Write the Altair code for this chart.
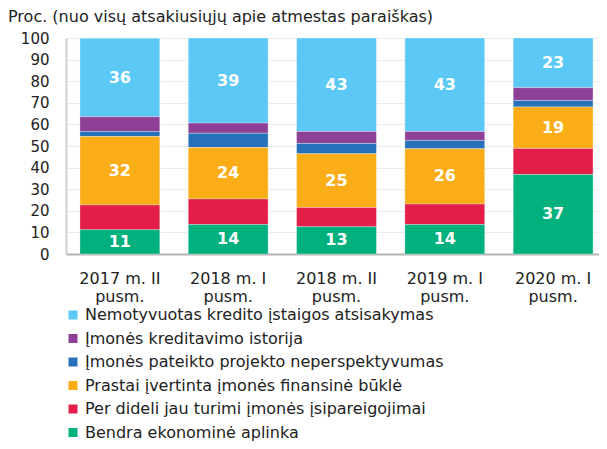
import altair as alt
import pandas as pd

categories = ["2017 m. II pusm.", "2018 m. I pusm.", "2018 m. II pusm.", "2019 m. I pusm.", "2020 m. I pusm."]
series = [
    "Nemotyvuotas kredito įstaigos atsisakymas",
    "Įmonės kreditavimo istorija",
    "Įmonės pateikto projekto neperspektyvumas",
    "Prastai įvertinta įmonės finansinė būklė",
    "Per dideli jau turimi įmonės įsipareigojimai",
    "Bendra ekonominė aplinka",
]
colors = ["#5BC8F5", "#8E3F96", "#2671B9", "#FBAD18", "#E31E48", "#00B07D"]

nemotyvuotas = [36.4, 39.4, 43.3, 43.3, 23.0]
istorija = [6.8, 4.7, 5.5, 4.1, 5.9]
projektas = [2.3, 6.6, 4.8, 3.9, 3.0]
finansine = [31.7, 23.8, 24.9, 25.6, 19.2]
isipareigojimai = [11.5, 11.9, 8.9, 9.5, 12.1]
bendra = [11.2, 13.6, 12.6, 13.6, 36.8]
labelled = [True, False, False, True, False, True]
y_ticks = [0, 10, 20, 30, 40, 50, 60, 70, 80, 90, 100]

title_text = "Proc. (nuo visų atsakiusiųjų apie atmestas paraiškas)"

all_values = [nemotyvuotas, istorija, projektas, finansine, isipareigojimai, bendra]
rows = []
for si, (s, vals) in enumerate(zip(series, all_values)):
    for c, v in zip(categories, vals):
        rows.append({"cat": c, "series": s, "value": v, "ord": len(series) - 1 - si, "lab": labelled[si]})
df = pd.DataFrame(rows)

FONT = "DejaVu Sans"

base = alt.Chart(df).transform_stack(
    stack="value", groupby=["cat"], as_=["y0", "y1"], sort=[alt.SortField("ord", order="ascending")]
).transform_calculate(ymid="(datum.y0 + datum.y1) / 2")

xaxis = alt.Axis(
    title=None, labelAngle=0, ticks=False, labelFontSize=16, labelFont=FONT,
    labelColor="#222222", labelPadding=16, labelLineHeight=18,
    domainColor="#b3b3b3", domainWidth=2, grid=False,
    labelExpr="[replace(datum.value, ' pusm.', ''), 'pusm.']",
)
yaxis = alt.Axis(
    values=y_ticks, title=None, ticks=False, labelFontSize=15,
    labelFont=FONT, labelColor="#222222", labelPadding=17, labelOverlap=False,
    domainColor="#d0d0d0", domainWidth=2, gridColor="#ececec",
)
xscale = alt.Scale(paddingInner=0.263, paddingOuter=0.092, align=0.7)
yscale = alt.Scale(domain=[0, 100], nice=False)

bars = base.mark_bar(stroke="white", strokeWidth=0.6, strokeOpacity=0.5).encode(
    x=alt.X("cat:N", sort=categories, scale=xscale, axis=xaxis),
    y=alt.Y("y0:Q", scale=yscale, axis=yaxis),
    y2="y1:Q",
    color=alt.Color(
        "series:N",
        sort=series,
        scale=alt.Scale(domain=series, range=colors),
        legend=alt.Legend(
            title=None, orient="none", legendX=-1, legendY=269, direction="vertical",
            symbolType="square", symbolSize=81, symbolStrokeWidth=0,
            labelFontSize=16, labelFont=FONT, labelColor="#222222",
            rowPadding=7.5, labelOffset=4, labelLimit=0,
        ),
    ),
)

labels = base.transform_filter("datum.lab").mark_text(
    color="white", fontWeight="bold", fontSize=16, font=FONT, baseline="middle"
).encode(
    x=alt.X("cat:N", sort=categories, scale=xscale, axis=xaxis),
    y=alt.Y("ymid:Q", scale=yscale, axis=yaxis),
    text=alt.Text("value:Q", format=".0f"),
)

title_layer = alt.Chart(pd.DataFrame({"t": [title_text]})).mark_text(
    align="left", baseline="alphabetic", fontSize=16, font=FONT, color="#222222"
).encode(text="t:N", x=alt.value(-58), y=alt.value(-16))

chart = alt.layer(bars, labels, title_layer).properties(
    width=533,
    height=216,
    autosize=alt.AutoSizeParams(type="none"),
    padding={"left": 58, "top": 30, "right": 0, "bottom": 187},
).configure_view(stroke=None)

chart.save("out.html", embed_options={"renderer": "svg", "actions": False})
